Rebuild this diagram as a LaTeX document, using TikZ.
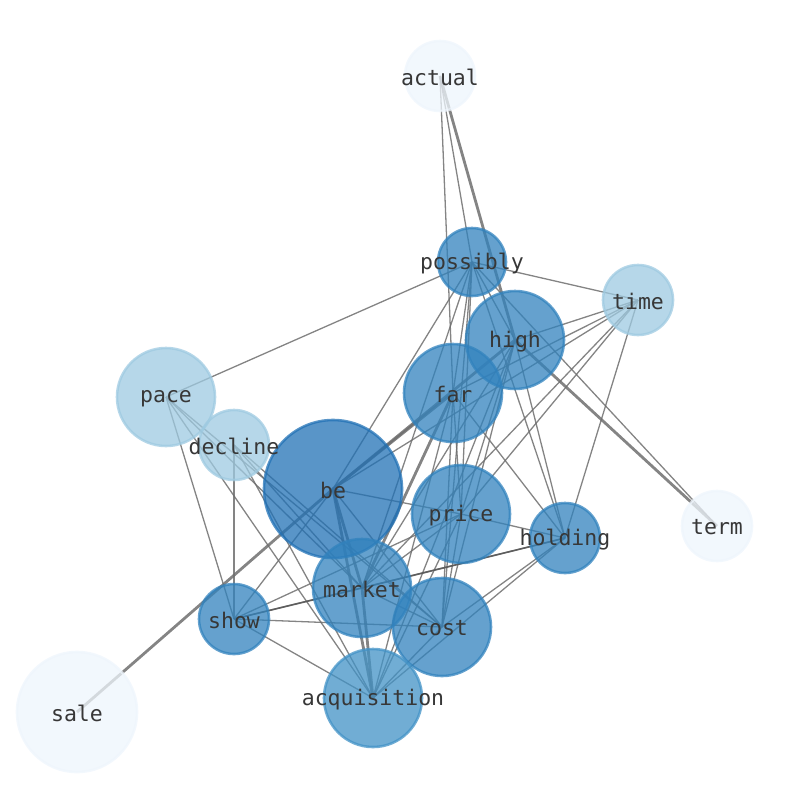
\documentclass[tikz,border=0pt]{standalone}
\usepackage{fontspec}
\newfontfamily\monofont{DejaVu Sans Mono}
\pgfdeclarelayer{background}
\pgfdeclarelayer{foreground}
\pgfsetlayers{background,main,foreground}
\definecolor{bmid}{RGB}{49,130,189}
\definecolor{bdark}{RGB}{33,113,181}
\definecolor{bacq}{RGB}{66,146,198}
\definecolor{blight}{RGB}{158,202,225}
\definecolor{bpale}{RGB}{238,245,252}
\definecolor{edgegray}{RGB}{110,110,110}
\definecolor{labelgray}{RGB}{55,55,55}
\tikzset{
  x=1pt,y=-1pt,
  vnode/.style={circle,inner sep=0pt,line width=2.6pt,fill opacity=0.75,draw opacity=0.75},
  mid/.style={vnode,fill=bmid,draw=bmid},
  darkn/.style={vnode,fill=bdark,draw=bdark},
  acqn/.style={vnode,fill=bacq,draw=bacq},
  lightn/.style={vnode,fill=blight,draw=blight},
  palen/.style={vnode,fill=bpale,draw=bpale},
  lbl/.style={font=\monofont\fontsize{21.5}{24}\selectfont,text=labelgray,inner sep=0pt},
  ed/.style={draw=edgegray,line width=1.3pt,opacity=0.85},
  edt/.style={draw=edgegray,line width=2.8pt,opacity=0.85},
  edd/.style={draw=black!65,line width=1.6pt,opacity=0.9}
}
\begin{document}
\begin{tikzpicture}
\useasboundingbox (0,0) rectangle (794,790);
% nodes (circles)
\node[palen,minimum size=70pt] (actual) at (440,76) {};
\node[mid,minimum size=68pt] (possibly) at (472,262) {};
\node[lightn,minimum size=70pt] (time) at (638,300) {};
\node[mid,minimum size=98pt] (high) at (515,340) {};
\node[lightn,minimum size=98pt] (pace) at (166,397) {};
\node[mid,minimum size=98pt] (far) at (453,393) {};
\node[lightn,minimum size=70pt] (decline) at (234,445) {};
\node[darkn,minimum size=138pt] (be) at (333,489) {};
\node[mid,minimum size=98pt] (price) at (461,514) {};
\node[mid,minimum size=70pt] (holding) at (565,538) {};
\node[palen,minimum size=70pt] (term) at (717,526) {};
\node[mid,minimum size=98pt] (market) at (362,588) {};
\node[mid,minimum size=70pt] (show) at (234,619) {};
\node[mid,minimum size=98pt] (cost) at (442,627) {};
\node[acqn,minimum size=98pt] (acquisition) at (373,698) {};
\node[palen,minimum size=120pt] (sale) at (77,712) {};
% edges
\begin{pgfonlayer}{background}
\foreach \a/\b in {actual/possibly,actual/far,
  possibly/pace,possibly/time,possibly/be,possibly/far,possibly/high,possibly/price,possibly/holding,possibly/term,possibly/cost,possibly/market,
  time/high,time/far,time/be,time/market,time/price,time/holding,
  high/holding,high/price,high/cost,high/market,high/acquisition,
  far/holding,far/cost,far/acquisition,far/price,
  price/holding,price/market,price/cost,price/acquisition,price/show,be/price,
  holding/cost,holding/acquisition,
  show/cost,show/acquisition,show/be,show/holding,show/pace,show/decline,
  market/cost,be/cost,cost/acquisition,
  pace/market,pace/cost,pace/acquisition,decline/market,decline/cost,decline/acquisition}
  \draw[ed] (\a.center) -- (\b.center);
\foreach \a/\b in {actual/high,term/high,sale/be,be/high,be/far,far/market,market/acquisition,be/market,be/acquisition}
  \draw[edt] (\a.center) -- (\b.center);
\foreach \a/\b in {show/market,market/holding}
  \draw[edd] (\a.center) -- (\b.center);
\end{pgfonlayer}
% labels
\begin{pgfonlayer}{foreground}
\foreach \n in {actual,possibly,time,high,pace,far,decline,be,price,holding,term,market,show,cost,acquisition,sale}
  \node[lbl] (\n-l) at ([yshift=-1.5pt]\n.center) {\n};
\end{pgfonlayer}
\end{tikzpicture}
\end{document}
